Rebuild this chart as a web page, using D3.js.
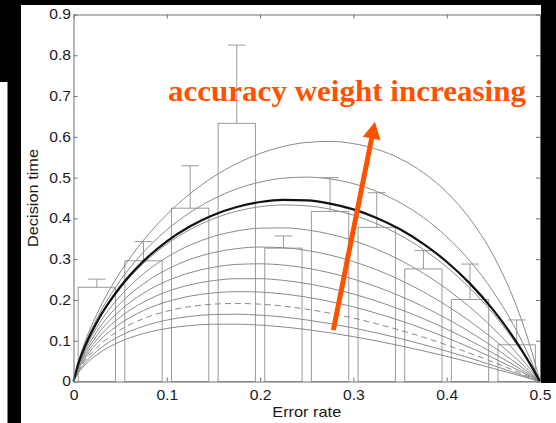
<!DOCTYPE html>
<html>
<head>
<meta charset="utf-8">
<script src="https://cdn.jsdelivr.net/npm/d3@7"></script>
<style>
  html, body { margin: 0; padding: 0; background: #000; }
  svg { display: block; }
</style>
</head>
<body>
<svg id="chart" width="556" height="423"></svg>
<script>
// ---------------- DATA ----------------
// error-rate grid on which the decision-time curves were read
const errorRates = [0, 0.005, 0.01, 0.025, 0.05, 0.075, 0.1, 0.125, 0.15, 0.175, 0.2, 0.225, 0.25, 0.275, 0.3, 0.325, 0.35, 0.375, 0.4, 0.425, 0.45, 0.47, 0.48, 0.49, 0.5];

// thin gray curves (lowest to highest accuracy weight)
const curveW08 = [0, 0.0205, 0.0347, 0.0654, 0.0976, 0.1176, 0.1300, 0.1373, 0.1405, 0.1407, 0.1382, 0.1337, 0.1273, 0.1194, 0.1100, 0.0995, 0.0878, 0.0751, 0.0616, 0.0472, 0.0321, 0.0196, 0.0132, 0.0066, 0];
const curveW09 = [0, 0.0231, 0.0393, 0.0744, 0.1118, 0.1355, 0.1506, 0.1597, 0.1642, 0.1650, 0.1627, 0.1580, 0.1509, 0.1420, 0.1313, 0.1191, 0.1055, 0.0906, 0.0745, 0.0574, 0.0392, 0.0239, 0.0161, 0.0081, 0];
const curveW10 = [0, 0.0258, 0.0439, 0.0835, 0.1265, 0.1542, 0.1724, 0.1837, 0.1897, 0.1914, 0.1896, 0.1848, 0.1773, 0.1674, 0.1554, 0.1415, 0.1258, 0.1085, 0.0896, 0.0692, 0.0475, 0.0291, 0.0196, 0.0099, 0]; // dashed
const curveW11 = [0, 0.0284, 0.0485, 0.0929, 0.1418, 0.1740, 0.1955, 0.2094, 0.2173, 0.2204, 0.2193, 0.2146, 0.2068, 0.1961, 0.1829, 0.1672, 0.1493, 0.1293, 0.1073, 0.0833, 0.0574, 0.0353, 0.0238, 0.0121, 0];
const curveW12 = [0, 0.0311, 0.0532, 0.1025, 0.1577, 0.1947, 0.2202, 0.2371, 0.2474, 0.2521, 0.2521, 0.2480, 0.2401, 0.2288, 0.2144, 0.1970, 0.1769, 0.1540, 0.1284, 0.1003, 0.0695, 0.0430, 0.0291, 0.0148, 0];
const curveW13 = [0, 0.0338, 0.0580, 0.1124, 0.1742, 0.2166, 0.2465, 0.2670, 0.2802, 0.2871, 0.2887, 0.2855, 0.2780, 0.2664, 0.2511, 0.2321, 0.2096, 0.1836, 0.1542, 0.1212, 0.0847, 0.0527, 0.0358, 0.0182, 0];
const curveW14 = [0, 0.0365, 0.0628, 0.1224, 0.1914, 0.2397, 0.2746, 0.2994, 0.3161, 0.3259, 0.3297, 0.3281, 0.3214, 0.3101, 0.2941, 0.2738, 0.2491, 0.2199, 0.1861, 0.1476, 0.1041, 0.0653, 0.0446, 0.0228, 0];
const curveW15 = [0, 0.0393, 0.0677, 0.1327, 0.2092, 0.2641, 0.3047, 0.3345, 0.3556, 0.3691, 0.3760, 0.3768, 0.3718, 0.3614, 0.3455, 0.3243, 0.2977, 0.2653, 0.2269, 0.1820, 0.1299, 0.0825, 0.0566, 0.0291, 0];
const curveW16 = [0, 0.0420, 0.0726, 0.1432, 0.2278, 0.2899, 0.3370, 0.3728, 0.3992, 0.4176, 0.4287, 0.4330, 0.4309, 0.4226, 0.4079, 0.3868, 0.3590, 0.3238, 0.2807, 0.2286, 0.1660, 0.1070, 0.0740, 0.0385, 0];
const curveW17 = [0, 0.0448, 0.0776, 0.1540, 0.2473, 0.3172, 0.3718, 0.4146, 0.4477, 0.4723, 0.4891, 0.4987, 0.5013, 0.4968, 0.4852, 0.4660, 0.4386, 0.4021, 0.3550, 0.2953, 0.2199, 0.1451, 0.1017, 0.0536, 0];
const curveW18 = [0, 0.0476, 0.0826, 0.1651, 0.2675, 0.3463, 0.4094, 0.4606, 0.5019, 0.5345, 0.5592, 0.5764, 0.5863, 0.5888, 0.5834, 0.5696, 0.5465, 0.5121, 0.4642, 0.3987, 0.3090, 0.2123, 0.1524, 0.0826, 0];
// bold black curve
const curveFit = [0, 0.0426, 0.0736, 0.1454, 0.2317, 0.2952, 0.3438, 0.3809, 0.4085, 0.4280, 0.4401, 0.4454, 0.4440, 0.4363, 0.4220, 0.4011, 0.3732, 0.3376, 0.2936, 0.2400, 0.1750, 0.1132, 0.0785, 0.0409, 0];

// histogram of data: bin centres, mean decision time, upper error
const barCenters = [0.025, 0.075, 0.125, 0.175, 0.225, 0.275, 0.325, 0.375, 0.425, 0.475];
const barValues = [0.231, 0.296, 0.425, 0.633, 0.327, 0.417, 0.378, 0.276, 0.201, 0.090];
const barErrorTops = [0.251, 0.343, 0.529, 0.825, 0.357, 0.500, 0.463, 0.321, 0.288, 0.151];
const barHalfWidth = 0.02;
const capHalfWidth = 0.0095;

const xTicks = [0, 0.1, 0.2, 0.3, 0.4, 0.5];
const yTicks = [0, 0.1, 0.2, 0.3, 0.4, 0.5, 0.6, 0.7, 0.8, 0.9];
const xLabel = "Error rate";
const yLabel = "Decision time";
const annotationText = "accuracy weight increasing";
const annotationAnchor = [0.1013, 0.6886];
const arrowFrom = [0.2785, 0.126];
const arrowTo = [0.3231, 0.637];

// ---------------- DRAW ----------------
const svg = d3.select("#chart");
const W = 556, H = 423;

// black frame / white page
svg.append("rect").attr("x", 0).attr("y", 0).attr("width", W).attr("height", H).attr("fill", "#000");
svg.append("rect").attr("x", 21).attr("y", 5).attr("width", 520).attr("height", H - 5).attr("fill", "#fff");
svg.append("rect").attr("x", 0).attr("y", 82).attr("width", 7.5).attr("height", H - 82).attr("fill", "#fff");
svg.append("rect").attr("x", 540).attr("y", 383).attr("width", 16).attr("height", 40).attr("fill", "#fff");

const x = d3.scaleLinear().domain([0, 0.5]).range([73.5, 540]);
const y = d3.scaleLinear().domain([0, 0.9]).range([381.5, 14.5]);

const grayCol = "#8a8a8a";
const barCol = "#9a9a9a";
const axisCol = "#707070";

// bars
const gBars = svg.append("g");
barCenters.forEach((c, i) => {
  const x0 = x(c - barHalfWidth), x1 = x(c + barHalfWidth);
  gBars.append("rect")
    .attr("x", x0).attr("y", y(barValues[i]))
    .attr("width", x1 - x0).attr("height", y(0) - y(barValues[i]))
    .attr("fill", "none").attr("stroke", barCol).attr("stroke-width", 1);
  gBars.append("line")
    .attr("x1", x(c)).attr("x2", x(c))
    .attr("y1", y(barValues[i])).attr("y2", y(barErrorTops[i]))
    .attr("stroke", barCol).attr("stroke-width", 1);
  gBars.append("line")
    .attr("x1", x(c - capHalfWidth)).attr("x2", x(c + capHalfWidth))
    .attr("y1", y(barErrorTops[i])).attr("y2", y(barErrorTops[i]))
    .attr("stroke", barCol).attr("stroke-width", 1);
});

// curves
const line = d3.line()
  .x((d, i) => x(errorRates[i]))
  .y(d => y(d))
  .curve(d3.curveMonotoneX);

const grayCurves = [curveW08, curveW09, curveW11, curveW12, curveW13, curveW14, curveW15, curveW16, curveW17, curveW18];
const gCurves = svg.append("g").attr("fill", "none");
grayCurves.forEach(vals => {
  gCurves.append("path").attr("d", line(vals))
    .attr("stroke", grayCol).attr("stroke-width", 1);
});
gCurves.append("path").attr("d", line(curveW10))
  .attr("stroke", grayCol).attr("stroke-width", 1).attr("stroke-dasharray", "6,4");
gCurves.append("path").attr("d", line(curveFit))
  .attr("stroke", "#111").attr("stroke-width", 2.2);

// axes (box with inward ticks)
function styleAxis(g) {
  g.select(".domain").attr("stroke", axisCol).attr("stroke-width", 1);
  g.selectAll(".tick line").attr("stroke", axisCol).attr("stroke-width", 1);
  g.selectAll(".tick text")
    .attr("fill", "#1a1a1a")
    .style("font-family", "'Liberation Sans', Arial, Helvetica, sans-serif")
    .style("font-size", "14px");
}
const fmt = d => d === 0 ? "0" : d3.format(".1f")(d);

const gx = svg.append("g").attr("transform", `translate(0,${y(0)})`)
  .call(d3.axisBottom(x).tickValues(xTicks).tickFormat(fmt).tickSizeInner(-4).tickSizeOuter(0).tickPadding(8.5));
styleAxis(gx);
gx.selectAll(".tick text").attr("transform", "scale(1.12,1)");

const gy = svg.append("g").attr("transform", `translate(${x(0)},0)`)
  .call(d3.axisLeft(y).tickValues(yTicks).tickFormat(fmt).tickSizeInner(-4).tickSizeOuter(0).tickPadding(2.5));
styleAxis(gy);
gy.selectAll(".tick text").attr("x", -2.5 / 1.12).attr("transform", "scale(1.12,1)");

const gt = svg.append("g").attr("transform", `translate(0,${y(0.9)})`)
  .call(d3.axisTop(x).tickValues(xTicks).tickFormat("").tickSizeInner(-4).tickSizeOuter(0));
styleAxis(gt);

const gr = svg.append("g").attr("transform", `translate(${x(0.5)},0)`)
  .call(d3.axisRight(y).tickValues(yTicks).tickFormat("").tickSizeInner(-4).tickSizeOuter(0));
styleAxis(gr);

// axis titles
svg.append("text")
  .attr("x", (x(0) + x(0.5)) / 2).attr("y", 416.5)
  .attr("text-anchor", "middle")
  .attr("textLength", 69).attr("lengthAdjust", "spacingAndGlyphs")
  .style("font-family", "'Liberation Sans', Arial, Helvetica, sans-serif")
  .style("font-size", "15px").attr("fill", "#1a1a1a")
  .text(xLabel);

svg.append("text")
  .attr("transform", `translate(37.5,${(y(0) + y(0.9)) / 2}) rotate(-90)`)
  .attr("text-anchor", "middle")
  .attr("textLength", 98).attr("lengthAdjust", "spacingAndGlyphs")
  .style("font-family", "'Liberation Sans', Arial, Helvetica, sans-serif")
  .style("font-size", "15px").attr("fill", "#1a1a1a")
  .text(yLabel);

// annotation arrow
const orange = "#ff5200";
const px0 = x(arrowFrom[0]), py0 = y(arrowFrom[1]);
const px1 = x(arrowTo[0]), py1 = y(arrowTo[1]);
const dx = px1 - px0, dy = py1 - py0, len = Math.hypot(dx, dy);
const ux = dx / len, uy = dy / len;
const headLen = 17, headHalf = 9;
const bx = px1 - ux * headLen, by = py1 - uy * headLen;
svg.append("line")
  .attr("x1", px0).attr("y1", py0)
  .attr("x2", bx + ux * 1).attr("y2", by + uy * 1)
  .attr("stroke", orange).attr("stroke-width", 5);
svg.append("path")
  .attr("d", `M${px1},${py1} L${bx - uy * headHalf},${by + ux * headHalf} L${bx + uy * headHalf},${by - ux * headHalf} Z`)
  .attr("fill", orange);

svg.append("text")
  .attr("x", x(annotationAnchor[0])).attr("y", y(annotationAnchor[1]))
  .attr("textLength", 358).attr("lengthAdjust", "spacingAndGlyphs")
  .style("font-family", "'Liberation Serif', 'Times New Roman', serif")
  .style("font-weight", "bold")
  .style("font-size", "30px")
  .attr("fill", orange)
  .text(annotationText);
</script>
</body>
</html>
